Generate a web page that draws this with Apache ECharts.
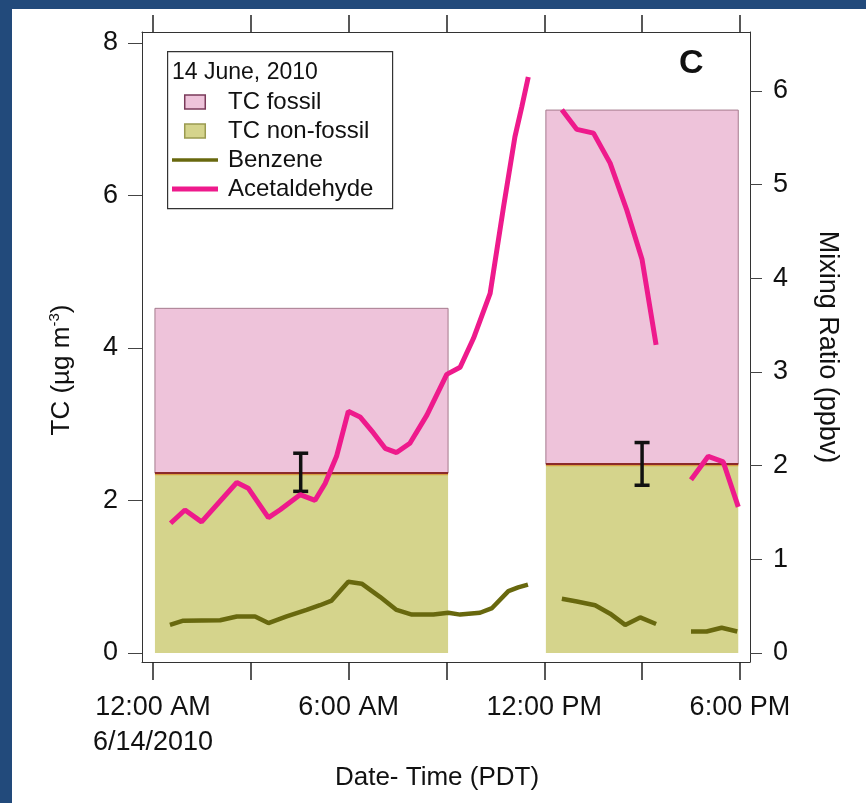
<!DOCTYPE html>
<html>
<head>
<meta charset="utf-8">
<script src="https://cdn.jsdelivr.net/npm/echarts@6/dist/echarts.min.js"></script>
<style>
html,body{margin:0;padding:0;background:#fff;}
#chart{width:866px;height:803px;}
</style>
</head>
<body>
<div id="chart"></div>
<script>
// ---- data (hours since 12:00 AM, 6/14/2010) ----
var periodStart = [0.06, 12.05];
var periodEnd = [9.05, 17.95];
var tcNonFossil = [2.36, 2.48];
var tcFossil = [2.16, 4.64];           // stacked above non-fossil
var errHour = [4.53, 15.0];
var errLow = [2.12, 2.20];
var errHigh = [2.62, 2.76];

var acetHours = [0.54, 0.98, 1.49, 2.57, 2.92, 3.54, 3.90, 4.51, 4.97, 5.28, 5.63, 5.99, 6.35, 6.76, 7.12, 7.47, 7.88, 8.40, 9.01, 9.42, 9.83, 10.34, 10.75, 11.10, 11.31, 11.51,
                 null,
                 12.54, 13.00, 13.51, 14.02, 14.53, 15.00, 15.43,
                 null,
                 16.50, 17.03, 17.49, 17.95];
var acetValues = [1.385, 1.527, 1.40, 1.82, 1.76, 1.445, 1.53, 1.69, 1.63, 1.81, 2.10, 2.58, 2.52, 2.35, 2.185, 2.14, 2.24, 2.54, 2.975, 3.05, 3.36, 3.84, 4.76, 5.51, 5.83, 6.15,
                  null,
                  5.80, 5.59, 5.55, 5.23, 4.73, 4.20, 3.29,
                  null,
                  1.85, 2.10, 2.04, 1.56];

var benzHours = [0.52, 0.93, 2.06, 2.57, 3.13, 3.54, 4.10, 4.71, 5.12, 5.48, 5.99, 6.40, 6.96, 7.47, 7.94, 8.60, 9.06, 9.42, 10.03, 10.40, 10.90, 11.20, 11.50,
                 null,
                 12.54, 13.00, 13.56, 14.02, 14.48, 14.94, 15.43,
                 null,
                 16.50, 16.98, 17.44, 17.92];
var benzValues = [0.30, 0.345, 0.35, 0.39, 0.39, 0.32, 0.39, 0.46, 0.51, 0.56, 0.76, 0.74, 0.60, 0.46, 0.41, 0.41, 0.43, 0.41, 0.43, 0.48, 0.66, 0.70, 0.73,
                  null,
                  0.58, 0.55, 0.51, 0.42, 0.30, 0.38, 0.31,
                  null,
                  0.23, 0.23, 0.27, 0.23];

var xTickValues = [0, 3, 6, 9, 12, 15, 18];
var xLabelValues = [0, 6, 12, 18];
var xLabelTexts = ['12:00 AM\n6/14/2010', '6:00 AM', '12:00 PM', '6:00 PM'];
var leftTicks = [0, 2, 4, 6, 8];
var rightTicks = [0, 1, 2, 3, 4, 5, 6];

// ---- build ----
function pairs(xs, ys) {
  return xs.map(function (x, i) {
    return (x === null || ys[i] === null) ? ['-', '-'] : [x, ys[i]];
  });
}
var nonFossilData = periodStart.map(function (s, i) { return [s, periodEnd[i], 0, tcNonFossil[i]]; });
var fossilData = periodStart.map(function (s, i) { return [s, periodEnd[i], tcNonFossil[i], tcNonFossil[i] + tcFossil[i]]; });
var errData = errHour.map(function (h, i) { return [h, errLow[i], errHigh[i]]; });

var FONT = '"Liberation Sans", Arial, Helvetica, sans-serif';
var PINK = '#eec3da', GREEN = '#d5d48c', MAG = '#ee1a8c', OLIVE = '#68680e';

function rectItem(params, api, fill, stroke, bottomLine) {
  var p0 = api.coord([api.value(0), api.value(3)]);
  var p1 = api.coord([api.value(1), api.value(2)]);
  var children = [{
    type: 'rect',
    shape: { x: p0[0], y: p0[1], width: p1[0] - p0[0], height: p1[1] - p0[1] },
    style: { fill: fill, stroke: stroke, lineWidth: stroke ? 1 : 0 }
  }];
  if (bottomLine) {
    children.push({
      type: 'line',
      shape: { x1: p0[0], y1: p1[1] + 1.5, x2: p1[0], y2: p1[1] + 1.5 },
      style: { stroke: '#d8a040', lineWidth: 1.5 }
    });
    children.push({
      type: 'line',
      shape: { x1: p0[0], y1: p1[1], x2: p1[0], y2: p1[1] },
      style: { stroke: '#8b2a2a', lineWidth: 2 }
    });
  }
  return { type: 'group', children: children };
}

var axisLineStyle = { show: true, onZero: false, lineStyle: { color: '#333', width: 1 } };

var chart = echarts.init(document.getElementById('chart'), null, { renderer: 'canvas' });
var option = {
  animation: false,
  backgroundColor: '#ffffff',
  textStyle: { fontFamily: FONT },
  title: [
    { text: '14 June, 2010', left: 172, top: 61, padding: 0,
      textStyle: { fontFamily: FONT, fontSize: 23, fontWeight: 'normal', color: '#111' } },
    { text: 'C', left: 679, top: 47, padding: 0,
      textStyle: { fontFamily: FONT, fontSize: 34, fontWeight: 'bold', color: '#111' } }
  ],
  grid: { left: 142, right: 116, top: 32, bottom: 141, containLabel: false },
  legend: {
    orient: 'vertical',
    left: 172, top: 90,
    padding: 0,
    itemGap: 5,
    itemWidth: 46, itemHeight: 14,
    textStyle: { fontFamily: FONT, fontSize: 24, color: '#111', padding: [0, 0, 0, 5] },
    selectedMode: false,
    data: [
      { name: 'TC fossil', icon: 'path://M0,0H22V15H0Z', itemStyle: { color: PINK, borderColor: '#7a3a5a', borderWidth: 1.5 } },
      { name: 'TC non-fossil', icon: 'path://M0,0H22V15H0Z', itemStyle: { color: GREEN, borderColor: '#9a9a50', borderWidth: 1.5 } },
      { name: 'Benzene', icon: 'path://M0,0H46V3.5H0Z', itemStyle: { color: OLIVE, borderWidth: 0 } },
      { name: 'Acetaldehyde', icon: 'path://M0,0H46V5H0Z', itemStyle: { color: MAG, borderWidth: 0 } }
    ]
  },
  xAxis: [{
    type: 'value', position: 'bottom',
    min: -0.337, max: 18.31,
    axisLine: axisLineStyle,
    axisTick: { show: true, customValues: xTickValues, length: 18, lineStyle: { color: '#222', width: 1.5 } },
    axisLabel: {
      customValues: xLabelValues,
      margin: 28,
      fontSize: 27, lineHeight: 35, color: '#111', fontFamily: FONT,
      formatter: function (v) { var i = xLabelValues.indexOf(Math.round(v)); return i >= 0 ? xLabelTexts[i] : ''; }
    },
    splitLine: { show: false },
    name: 'Date- Time (PDT)', nameLocation: 'middle', nameGap: 102,
    nameTextStyle: { fontSize: 26, color: '#111', fontFamily: FONT, padding: [0, 18, 0, 0] }
  }, {
    type: 'value', position: 'top',
    min: -0.337, max: 18.31,
    axisLine: axisLineStyle,
    axisTick: { show: true, customValues: xTickValues, length: 17, lineStyle: { color: '#222', width: 1.5 } },
    axisLabel: { show: false },
    splitLine: { show: false }
  }],
  yAxis: [{
    type: 'value', position: 'left',
    min: -0.118, max: 8.144,
    axisLine: axisLineStyle,
    axisTick: { show: true, customValues: leftTicks, length: 14, lineStyle: { color: '#444', width: 1 } },
    axisLabel: { customValues: leftTicks, margin: 24, fontSize: 27, color: '#111', fontFamily: FONT },
    splitLine: { show: false },
    name: 'TC (µg m{sup|-3})', nameLocation: 'middle', nameGap: 66,
    nameTextStyle: {
      fontSize: 26, color: '#111', fontFamily: FONT, padding: [0, 46, 0, 0],
      rich: { sup: { fontSize: 15, verticalAlign: 'top', padding: [0, 0, 14, 0], fontFamily: FONT, color: '#111' } }
    }
  }, {
    type: 'value', position: 'right',
    min: -0.096, max: 6.63,
    axisLine: axisLineStyle,
    axisTick: { show: true, customValues: rightTicks, length: 12, lineStyle: { color: '#444', width: 1 } },
    axisLabel: { customValues: rightTicks, margin: 23, fontSize: 27, color: '#111', fontFamily: FONT },
    splitLine: { show: false },
    name: 'Mixing Ratio (ppbv)', nameLocation: 'middle', nameGap: 64, nameRotate: -90,
    nameTextStyle: { fontSize: 27, color: '#111', fontFamily: FONT }
  }],
  series: [{
    name: 'TC non-fossil', type: 'custom', xAxisIndex: 0, yAxisIndex: 0,
    itemStyle: { color: GREEN },
    renderItem: function (params, api) { return rectItem(params, api, GREEN, null, false); },
    encode: { x: [0, 1], y: [2, 3] },
    data: nonFossilData, z: 1
  }, {
    name: 'TC fossil', type: 'custom', xAxisIndex: 0, yAxisIndex: 0,
    itemStyle: { color: PINK },
    renderItem: function (params, api) { return rectItem(params, api, PINK, '#a57b8d', true); },
    encode: { x: [0, 1], y: [2, 3] },
    data: fossilData, z: 2
  }, {
    name: 'TC error', type: 'custom', xAxisIndex: 0, yAxisIndex: 0,
    renderItem: function (params, api) {
      var top = api.coord([api.value(0), api.value(2)]);
      var bot = api.coord([api.value(0), api.value(1)]);
      var hw = 7.5;
      var st = { stroke: '#111', lineWidth: 3.5 };
      return { type: 'group', children: [
        { type: 'line', shape: { x1: top[0], y1: top[1], x2: bot[0], y2: bot[1] }, style: st },
        { type: 'line', shape: { x1: top[0] - hw, y1: top[1], x2: top[0] + hw, y2: top[1] }, style: st },
        { type: 'line', shape: { x1: bot[0] - hw, y1: bot[1], x2: bot[0] + hw, y2: bot[1] }, style: st }
      ] };
    },
    encode: { x: 0, y: [1, 2] },
    data: errData, z: 5
  }, {
    name: 'Benzene', type: 'line', xAxisIndex: 0, yAxisIndex: 1,
    symbol: 'none', showSymbol: false, connectNulls: false,
    lineStyle: { color: OLIVE, width: 4.5 }, itemStyle: { color: OLIVE },
    data: pairs(benzHours, benzValues), z: 6
  }, {
    name: 'Acetaldehyde', type: 'line', xAxisIndex: 0, yAxisIndex: 1,
    symbol: 'none', showSymbol: false, connectNulls: false,
    lineStyle: { color: MAG, width: 5 }, itemStyle: { color: MAG },
    data: pairs(acetHours, acetValues), z: 7
  }],
  graphic: [
    { type: 'rect', left: 0, top: 0, shape: { width: 866, height: 9 }, style: { fill: '#224a7b' }, z: 100 },
    { type: 'rect', left: 0, top: 0, shape: { width: 12, height: 803 }, style: { fill: '#224a7b' }, z: 100 },
    { type: 'rect', left: 167, top: 51, shape: { width: 225, height: 157 }, style: { fill: '#fff', stroke: '#333', lineWidth: 1.2 }, z: -1, zlevel: 0 }
  ]
};
chart.setOption(option);
</script>
</body>
</html>
